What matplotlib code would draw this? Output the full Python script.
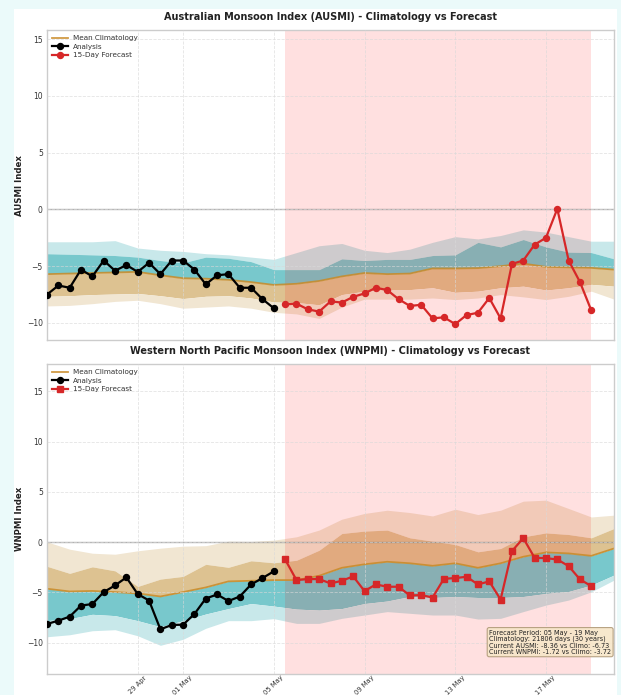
import matplotlib
matplotlib.use("Agg")
import matplotlib.pyplot as plt
import matplotlib.dates as mdates
from matplotlib.patches import Rectangle
import numpy as np
from datetime import datetime, timedelta

# ---------------- data ----------------
analysis_start = datetime(2025, 4, 25, 0)
forecast_start = datetime(2025, 5, 5, 12)
clim_start = datetime(2025, 4, 25)

ausmi_analysis = [-7.5, -6.7, -6.9, -5.3, -5.9, -4.5, -5.4, -4.9, -5.5, -4.7, -5.7,
                  -4.5, -4.5, -5.3, -6.6, -5.8, -5.7, -6.9, -6.9, -7.9, -8.7]
ausmi_forecast = [-8.36, -8.3, -8.8, -9.0, -8.1, -8.2, -7.7, -7.4, -6.9, -7.1, -7.9,
                  -8.5, -8.4, -9.6, -9.5, -10.1, -9.3, -9.1, -7.8, -9.6, -4.8, -4.5,
                  -3.1, -2.5, 0.05, -4.5, -6.4, -8.9]
ausmi_p90 = [-2.85, -2.85, -2.85, -2.75, -3.4, -3.6, -3.7, -3.9, -4.0, -4.2, -4.4, -3.8, -3.2,
             -3.0, -3.6, -3.8, -3.5, -2.9, -2.4, -2.6, -2.3, -1.8, -2.0, -2.4, -2.8, -2.8]
ausmi_p75 = [-3.9, -3.95, -4.0, -4.06, -4.2, -4.5, -4.7, -4.2, -4.3, -4.6, -5.3, -5.3, -5.3,
             -4.35, -4.5, -4.4, -4.4, -4.06, -4.0, -2.9, -3.3, -2.65, -3.3, -3.76, -3.8, -4.35]
ausmi_mean = [-5.7, -5.65, -5.6, -5.55, -5.5, -5.8, -6.06, -6.1, -6.2, -6.4, -6.65, -6.55, -6.3,
              -5.9, -5.6, -5.7, -5.65, -5.2, -5.2, -5.17, -5.0, -4.77, -5.06, -5.1, -5.15, -5.3]
ausmi_p25 = [-7.65, -7.6, -7.5, -7.45, -7.4, -7.6, -7.85, -7.65, -7.6, -7.8, -8.15, -8.2, -8.4,
             -7.5, -7.2, -7.06, -7.06, -6.9, -7.3, -7.2, -6.9, -6.76, -7.1, -6.9, -6.6, -6.76]
ausmi_p10 = [-8.5, -8.45, -8.3, -8.1, -8.0, -8.3, -8.7, -8.6, -8.5, -8.7, -9.06, -9.2, -9.6,
             -8.6, -7.9, -7.9, -7.9, -7.8, -7.94, -7.8, -7.5, -7.7, -7.94, -7.65, -7.2, -7.9]

wnpmi_analysis = [-8.13, -7.8, -7.4, -6.3, -6.15, -4.96, -4.3, -3.5, -5.16, -5.8, -8.66,
                  -8.23, -8.2, -7.14, -5.6, -5.2, -5.85, -5.4, -4.2, -3.57, -2.9]
wnpmi_forecast = [-1.72, -3.77, -3.67, -3.67, -4.1, -3.84, -3.4, -4.86, -4.2, -4.43, -4.43,
                  -5.3, -5.26, -5.5, -3.64, -3.57, -3.44, -4.2, -3.9, -5.7, -0.89, 0.4,
                  -1.56, -1.59, -1.72, -2.38, -3.7, -4.37]
wnpmi_p90 = [0.03, -0.7, -1.1, -1.2, -0.86, -0.6, -0.4, -0.35, 0.1, 0.07, 0.2, 0.53, 1.2,
             2.28, 2.85, 3.17, 2.94, 2.6, 3.27, 2.74, 3.17, 4.07, 4.17, 3.34, 2.5, 2.68]
wnpmi_p75 = [-2.4, -3.1, -2.45, -2.85, -4.4, -3.67, -3.4, -2.2, -2.5, -1.85, -2.05, -1.8, -0.8,
             0.86, 1.1, 1.2, 0.43, 0.1, -0.23, -0.96, -0.63, 0.53, 0.92, 0.76, 0.43, 1.36]
wnpmi_mean = [-4.63, -4.9, -4.85, -4.96, -5.1, -5.4, -4.96, -4.5, -3.9, -3.84, -3.77, -3.77, -3.34,
              -2.55, -2.2, -1.95, -2.1, -2.35, -2.1, -2.55, -2.1, -1.45, -1.02, -1.12, -1.36, -0.63]
wnpmi_p25 = [-7.8, -7.6, -7.17, -7.3, -7.8, -8.4, -7.8, -7.14, -6.6, -6.1, -6.35, -6.65, -6.75,
             -6.6, -6.1, -5.85, -5.4, -5.5, -5.4, -5.5, -5.5, -5.4, -5.1, -4.9, -4.27, -3.27]
wnpmi_p10 = [-9.4, -9.2, -8.8, -8.7, -9.3, -10.25, -9.65, -8.56, -7.8, -7.8, -7.6, -8.07, -8.07,
             -7.57, -7.24, -6.9, -7.07, -7.24, -7.24, -7.64, -7.57, -6.9, -6.25, -5.75, -4.93, -3.77]

tick_dates = ["2025-04-29", "2025-05-01", "2025-05-05", "2025-05-09", "2025-05-13", "2025-05-17"]

info_lines = ["Forecast Period: 05 May - 19 May",
              "Climatology: 21806 days (30 years)",
              "Current AUSMI: -8.36 vs Climo: -6.73",
              "Current WNPMI: -1.72 vs Climo: -3.72"]

titles = ["Australian Monsoon Index (AUSMI) - Climatology vs Forecast",
          "Western North Pacific Monsoon Index (WNPMI) - Climatology vs Forecast"]
ylabels = ["AUSMI Index", "WNPMI Index"]

# ---------------- derived time axes ----------------
t_an = [analysis_start + timedelta(hours=12 * i) for i in range(len(ausmi_analysis))]
t_fc = [forecast_start + timedelta(hours=12 * i) for i in range(len(ausmi_forecast))]
t_cl = [clim_start + timedelta(days=i) for i in range(len(ausmi_mean))]

# colours
C_TEAL = "#78c8cc"
C_LCYAN = "#c8e8ea"
C_TAN = "#ddc291"
C_LTAN = "#f1e6d2"
C_MEAN = "#c98a26"

fig = plt.figure(figsize=(6.21, 6.95), dpi=100)
fig.patch.set_facecolor("#ebfafa")
fig.patches.append(Rectangle((14 / 621, 0), (617 - 14) / 621, 1 - 9 / 695,
                             transform=fig.transFigure, facecolor="white",
                             edgecolor="none", zorder=-10))

ax1 = fig.add_axes([47 / 621, 1 - 340 / 695, 567 / 621, 310 / 695])
ax2 = fig.add_axes([47 / 621, 1 - 674 / 695, 567 / 621, 310 / 695], sharex=ax1)

configs = [
    (ax1, ausmi_analysis, ausmi_forecast, ausmi_p90, ausmi_p75, ausmi_mean, ausmi_p25, ausmi_p10,
     (C_LCYAN, C_TEAL, C_TAN, C_LTAN), "o", (-11.5, 15.8)),
    (ax2, wnpmi_analysis, wnpmi_forecast, wnpmi_p90, wnpmi_p75, wnpmi_mean, wnpmi_p25, wnpmi_p10,
     (C_LTAN, C_TAN, C_TEAL, C_LCYAN), "s", (-13.1, 17.7)),
]

for k, (ax, an, fc, p90, p75, mean, p25, p10, cols, mk, ylim) in enumerate(configs):
    ax.set_facecolor("white")
    ax.fill_between(t_cl, p75, p90, color=cols[0], lw=0, zorder=1)
    ax.fill_between(t_cl, mean, p75, color=cols[1], lw=0, zorder=1)
    ax.fill_between(t_cl, p25, mean, color=cols[2], lw=0, zorder=1)
    ax.fill_between(t_cl, p10, p25, color=cols[3], lw=0, zorder=1)
    ax.axvspan(t_fc[0], t_fc[-1], color="red", alpha=0.12, lw=0, zorder=1.5)
    ax.axhline(0, color="gray", alpha=0.6, lw=1.0, zorder=1.6)
    ax.plot(t_cl, mean, color=C_MEAN, lw=1.3, alpha=0.85, zorder=2, label="Mean Climatology")
    ax.plot(t_an, an, color="black", lw=1.6, marker="o", ms=4.3, zorder=3, label="Analysis")
    ax.plot(t_fc, fc, color="#d62728", lw=1.6, marker=mk, ms=4.3, zorder=3, label="15-Day Forecast")
    ax.set_ylim(*ylim)
    ax.set_xlim(t_cl[0], t_cl[-1])
    ax.set_yticks([-10, -5, 0, 5, 10, 15])
    ax.grid(True, ls="--", color="#d9d9d9", lw=0.6, alpha=0.7)
    ax.set_axisbelow(False)
    for s in ax.spines.values():
        s.set_color("#cccccc")
        s.set_linewidth(1.0)
    ax.tick_params(length=0, labelsize=5.5, colors="#333333", pad=3)
    ax.set_title(titles[k], fontsize=7.0, fontweight="bold", pad=7, color="#222222")
    ax.set_ylabel(ylabels[k], fontsize=6.2, fontweight="bold", labelpad=2, color="#222222")
    leg = ax.legend(loc="upper left", fontsize=5.2, frameon=False, handlelength=2.2,
                    borderaxespad=0.3, labelspacing=0.35, handletextpad=0.7)
    for t in leg.get_texts():
        t.set_color("#333333")

ax1.set_xticks([mdates.date2num(datetime.strptime(d, "%Y-%m-%d")) for d in tick_dates])
ax1.xaxis.set_major_formatter(mdates.DateFormatter("%d %b"))
plt.setp(ax1.get_xticklabels(), visible=False)
ax2.tick_params(axis="x", pad=0.5)
plt.setp(ax2.get_xticklabels(), rotation=45, ha="center", fontsize=4.9)

ax2.text(0.995, 0.062, "\n".join(info_lines), transform=ax2.transAxes, ha="right", va="bottom",
         multialignment="left", fontsize=4.7, color="#222222", zorder=5, linespacing=1.05,
         bbox=dict(boxstyle="round,pad=0.3", facecolor="#f7e6c8", edgecolor="#b09a78",
                   alpha=0.9, lw=0.8))

fig.savefig("out.png", dpi=100, facecolor=fig.get_facecolor())
